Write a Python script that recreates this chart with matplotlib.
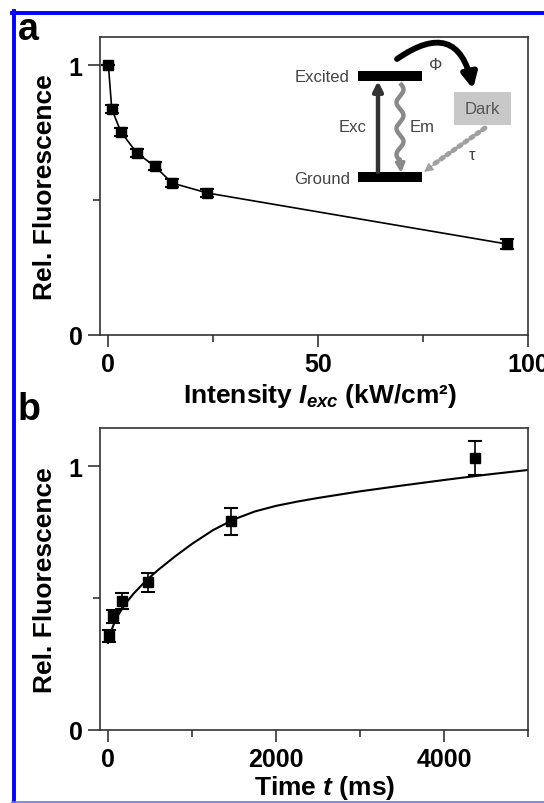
import numpy as np
import matplotlib
matplotlib.use('Agg')
import matplotlib.pyplot as plt
from matplotlib.patches import FancyArrowPatch, Rectangle
from matplotlib.lines import Line2D

plt.rcParams['font.family'] = ['Liberation Sans', 'DejaVu Sans']
plt.rcParams['font.weight'] = 'bold'
plt.rcParams['mathtext.fontset'] = 'custom'
plt.rcParams['mathtext.rm'] = 'Liberation Sans:bold'
plt.rcParams['mathtext.it'] = 'Liberation Sans:bold:italic'
plt.rcParams['mathtext.bf'] = 'Liberation Sans:bold'

# panel a: fluorescence vs excitation intensity
intensity = [0, 0.8, 3.0, 6.8, 11.0, 15.2, 23.6, 95.0]
fluor_a = [1.0, 0.837, 0.752, 0.674, 0.626, 0.563, 0.526, 0.337]
err_a = [0, 0.016, 0.016, 0.016, 0.016, 0.016, 0.016, 0.018]

# panel b: recovery vs dark time
time_ms = [10, 60, 170, 480, 1460, 4370]
fluor_b = [0.355, 0.43, 0.49, 0.56, 0.79, 1.03]
err_b = [0.023, 0.023, 0.03, 0.036, 0.051, 0.063]

# fitted curve
fit_t = [0, 50, 100, 200, 300, 450, 600, 800, 1000, 1250, 1500, 1750,
         2000, 2250, 2500, 3000, 3500, 4000, 4500, 5000]
fit_y = [0.33, 0.385, 0.425, 0.475, 0.515, 0.565, 0.607, 0.658, 0.705, 0.757,
         0.798, 0.828, 0.849, 0.865, 0.879, 0.904, 0.926, 0.947, 0.967, 0.985]

W, H = 544, 804
fig = plt.figure(figsize=(W / 100, H / 100), dpi=100)

spine_c = '#333333'


def style(ax):
    for s in ax.spines.values():
        s.set_linewidth(1.2)
        s.set_color(spine_c)
    ax.tick_params(which='major', direction='out', length=8.5, width=1.2,
                   color=spine_c, labelsize=18, pad=4)
    ax.tick_params(which='minor', direction='out', length=5, width=1.2,
                   color=spine_c)
    for lab in ax.get_xticklabels() + ax.get_yticklabels():
        lab.set_fontweight('bold')


def px_axes(left, top, right, bottom):
    return fig.add_axes([left / W, 1 - bottom / H, (right - left) / W, (bottom - top) / H])


ax_a = px_axes(100, 38, 528, 336)
ax_a.plot(intensity, fluor_a, '-', color='k', lw=1.2)
ax_a.errorbar(intensity, fluor_a, yerr=err_a, fmt='s', color='k', ms=6.5,
              capsize=5, elinewidth=1.2, capthick=1.5)
ax_a.set_xlim(-2, 100)
ax_a.set_ylim(0, 1.104)
ax_a.set_xticks([0, 50, 100])
ax_a.set_xticks([25, 75], minor=True)
ax_a.set_yticks([0, 1])
ax_a.set_yticks([0.5], minor=True)
ax_a.set_yticklabels(['0', '1'])
style(ax_a)
ax_a.set_xlabel('Intensity $I_{exc}$ (kW/cm²)', fontsize=19, fontweight='bold')
ax_a.set_ylabel('Rel. Fluorescence', fontsize=19, fontweight='bold')
ax_a.xaxis.set_label_coords(0.514, -0.155)
ax_a.yaxis.set_label_coords(-0.10, 0.5)

ax_b = px_axes(100, 429, 528, 731)
ax_b.plot(fit_t, fit_y, '-', color='k', lw=1.5)
ax_b.errorbar(time_ms, fluor_b, yerr=err_b, fmt='s', color='k', ms=6.5,
              capsize=5, elinewidth=1.2, capthick=1.5)
ax_b.set_xlim(-95, 5000)
ax_b.set_ylim(0, 1.144)
ax_b.set_xticks([0, 2000, 4000])
ax_b.set_xticks([1000, 3000, 5000], minor=True)
ax_b.set_yticks([0, 1])
ax_b.set_yticks([0.5], minor=True)
ax_b.set_yticklabels(['0', '1'])
style(ax_b)
ax_b.set_xlabel('Time $t$ (ms)', fontsize=19, fontweight='bold')
ax_b.set_ylabel('Rel. Fluorescence', fontsize=19, fontweight='bold')
ax_b.xaxis.set_label_coords(0.526, -0.142)
ax_b.yaxis.set_label_coords(-0.10, 0.5)

# overlay in pixel coordinates for frame, panel letters and the scheme
ov = fig.add_axes([0, 0, 1, 1], zorder=5)
ov.set_xlim(0, W)
ov.set_ylim(H, 0)
ov.axis('off')
ov.patch.set_alpha(0)

blue = '#0000ff'
ov.add_line(Line2D([12, W], [13.5, 13.5], color=blue, lw=2.8))
ov.add_line(Line2D([13.5, 13.5], [12, H], color=blue, lw=2.8))
ov.add_line(Line2D([12, W], [802.5, 802.5], color='#7070e8', lw=1.2))

ov.text(18, 40, 'a', fontsize=27, fontweight='bold', va='baseline', ha='left')
ov.text(18, 420, 'b', fontsize=27, fontweight='bold', va='baseline', ha='left')

# energy level scheme
txt_c = '#444444'
ov.add_patch(Rectangle((358, 72), 64, 10, color='k', lw=0))
ov.add_patch(Rectangle((358, 173), 64, 10, color='k', lw=0))
ov.text(350, 78, 'Excited', fontsize=12, fontweight='normal', color=txt_c,
        ha='right', va='center')
ov.text(350, 180, 'Ground', fontsize=12, fontweight='normal', color=txt_c,
        ha='right', va='center')
ov.add_patch(FancyArrowPatch((378, 173), (378, 82), arrowstyle='-|>',
                             mutation_scale=14, lw=3.2, color='#333333',
                             shrinkA=0, shrinkB=0))
ov.text(367, 128, 'Exc', fontsize=12, fontweight='normal', color=txt_c,
        ha='right', va='center')
wy = np.linspace(84, 162, 200)
wx = 400 + 3.5 * np.sin(2 * np.pi * (wy - 84) / 26)
ov.plot(wx, wy, color='#8a8a8a', lw=3.2, solid_capstyle='butt')
ov.add_patch(FancyArrowPatch((wx[-1], wy[-1] - 2), (401, 174), arrowstyle='-|>',
                             mutation_scale=13, lw=2.5, color='#8a8a8a',
                             shrinkA=0, shrinkB=0))
ov.text(410, 128, 'Em', fontsize=12, fontweight='normal', color=txt_c,
        ha='left', va='center')
ov.add_patch(FancyArrowPatch((397, 60), (473, 90), arrowstyle='-|>',
                             connectionstyle='arc3,rad=-0.75',
                             mutation_scale=22, lw=4.2, color='k',
                             shrinkA=0, shrinkB=0))
ov.text(436, 66, 'Φ', fontsize=12, fontweight='normal', color=txt_c,
        ha='center', va='center')
ov.add_patch(Rectangle((454, 93), 57, 33, color='#c8c8c8', lw=0))
ov.text(482.5, 110, 'Dark', fontsize=12, fontweight='normal', color='#555555',
        ha='center', va='center')
ov.plot([485, 434], [129, 165], ls=(0, (0.6, 0.9)), lw=3.5, color='#a0a0a0',
        dash_capstyle='round')
ov.add_patch(FancyArrowPatch((436, 164), (424, 173), arrowstyle='-|>',
                             mutation_scale=13, lw=1, color='#a0a0a0',
                             shrinkA=0, shrinkB=0))
ov.text(472, 156, 'τ', fontsize=12, fontweight='normal', color=txt_c,
        ha='center', va='center')

fig.savefig('out.png', dpi=100)
